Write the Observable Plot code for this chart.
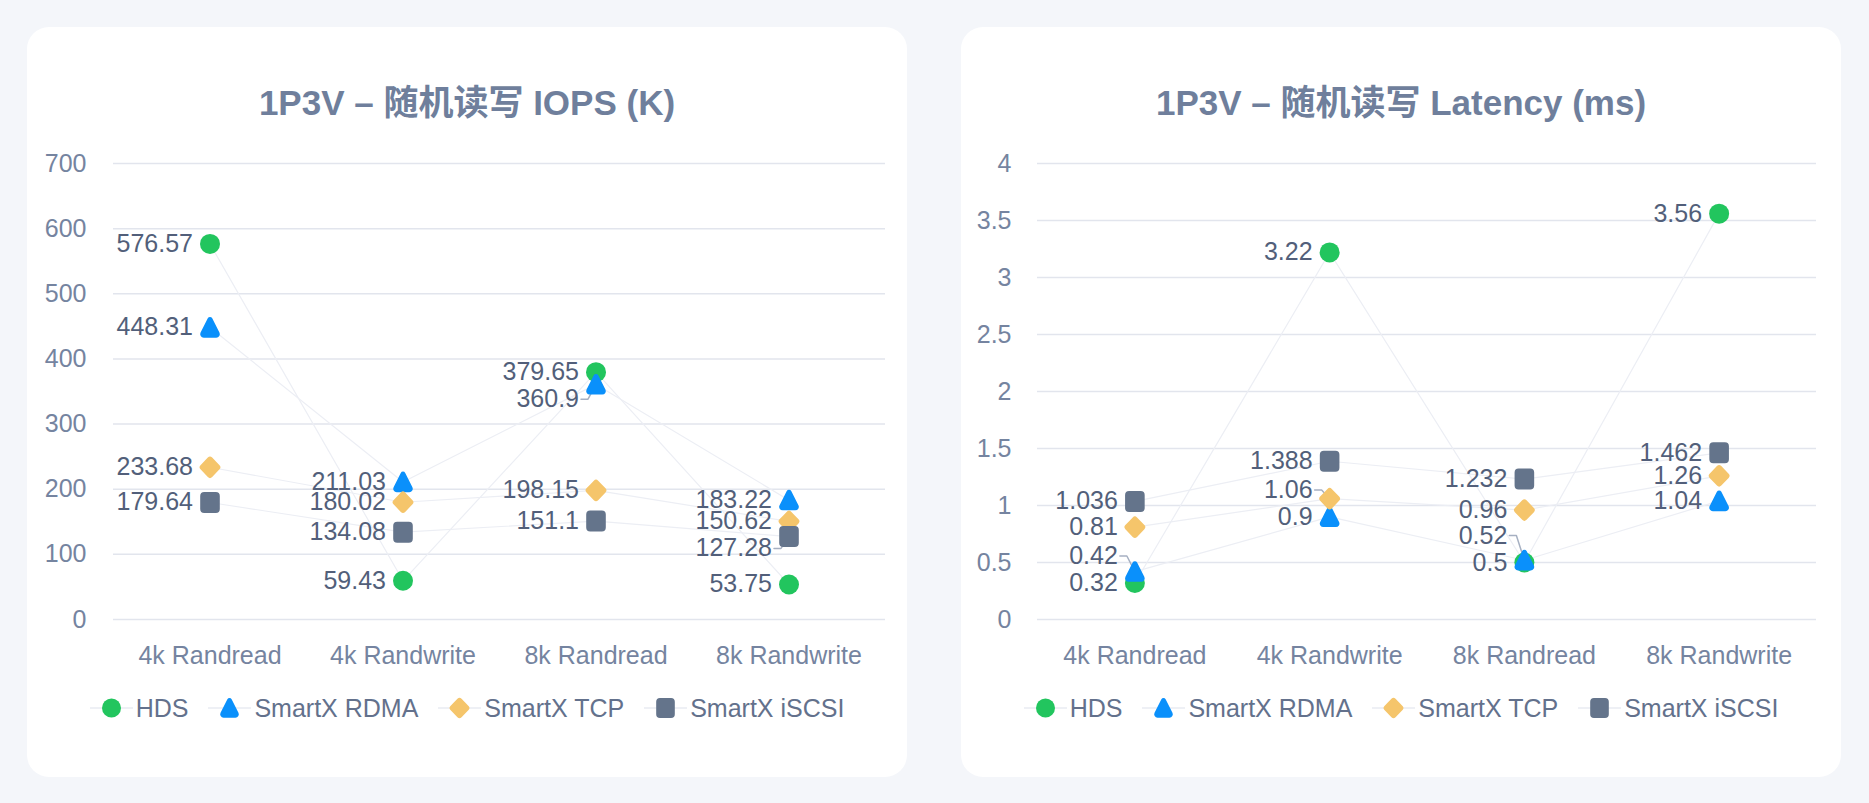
<!DOCTYPE html>
<html>
<head>
<meta charset="utf-8">
<script src="https://cdn.jsdelivr.net/npm/d3@7"></script>
<script src="https://cdn.jsdelivr.net/npm/@observablehq/plot@0.6"></script>
<style>
  html, body { margin: 0; padding: 0; }
  body { background: #f4f6fa; width: 1869px; height: 803px; overflow: hidden; position: relative;
         font-family: "Liberation Sans", Arial, "Noto Sans CJK SC", sans-serif; }
  .card { position: absolute; top: 27px; width: 880px; height: 750px; background: #fff; border-radius: 22px; }
  .title { position: absolute; left: 0; top: 56px; width: 100%; text-align: center; font-size: 35px; line-height: 40px;
           font-weight: bold; color: #6f7f9c; }
  .plot { position: absolute; left: 0; top: 110px; }
  .legend { position: absolute; left: 0; top: 666px; width: 100%; display: flex; justify-content: center; align-items: center;
            font-size: 25px; line-height: 30px; color: #63718c; }
  .item { display: flex; align-items: center; margin: 0 10px; }
  .item svg { margin-right: 3px; }
</style>
</head>
<body>
<div class="card" id="card1" style="left:27px">
  <div class="title" id="title1"></div>
  <div class="plot" id="plot1"></div>
  <div class="legend" id="legend1"></div>
</div>
<div class="card" id="card2" style="left:961px">
  <div class="title" id="title2"></div>
  <div class="plot" id="plot2"></div>
  <div class="legend" id="legend2"></div>
</div>
<script>
// ---------------- data ----------------
const categories = ["4k Randread", "4k Randwrite", "8k Randread", "8k Randwrite"];
const seriesNames = ["HDS", "SmartX RDMA", "SmartX TCP", "SmartX iSCSI"];
const seriesColors = ["#22c55e", "#0a90fb", "#f5c56b", "#64748b"];

const iopsTitle = "1P3V – 随机读写 IOPS (K)";
const iopsHDS   = [576.57, 59.43, 379.65, 53.75];
const iopsRDMA  = [448.31, 211.03, 360.9, 183.22];
const iopsTCP   = [233.68, 180.02, 198.15, 150.62];
const iopsISCSI = [179.64, 134.08, 151.1, 127.28];
const iopsTicks = [0, 100, 200, 300, 400, 500, 600, 700];

const latTitle = "1P3V – 随机读写 Latency (ms)";
const latHDS   = [0.32, 3.22, 0.5, 3.56];
const latRDMA  = [0.42, 0.9, 0.52, 1.04];
const latTCP   = [0.81, 1.06, 0.96, 1.26];
const latISCSI = [1.036, 1.388, 1.232, 1.462];
const latTicks = [0, 0.5, 1, 1.5, 2, 2.5, 3, 3.5, 4];

// ---------------- symbols ----------------
const symCircle = { draw(ctx, size) { const r = Math.sqrt(size / Math.PI); ctx.moveTo(r, 0); ctx.arc(0, 0, r, 0, 2 * Math.PI); } };
const symTriangle = { draw(ctx, size) {
  const k = Math.sqrt(size / Math.PI) / 10;
  const tx = 0, ty = -13.5 * k, rx = 12 * k, ry = 10.2 * k, lx = -12 * k, ly = 10.2 * k;
  ctx.moveTo(0, ry);
  ctx.arcTo(rx, ry, tx, ty, 3.5 * k);
  ctx.arcTo(tx, ty, lx, ly, 2.5 * k);
  ctx.arcTo(lx, ly, 0, ly, 3.5 * k);
  ctx.closePath();
} };
const symDiamond = { draw(ctx, size) {
  const k = Math.sqrt(size / Math.PI) / 10;
  const h = 12 * k, w = 11.5 * k, c = 3 * k;
  ctx.moveTo(-w / 2, -h / 2);
  ctx.arcTo(0, -h, w, 0, c);
  ctx.arcTo(w, 0, 0, h, c);
  ctx.arcTo(0, h, -w, 0, c);
  ctx.arcTo(-w, 0, 0, -h, c);
  ctx.closePath();
} };
const symRect = { draw(ctx, size) {
  const k = Math.sqrt(size / Math.PI) / 10;
  const w = 9.8 * k, h = 10.5 * k, c = 4 * k;
  ctx.moveTo(0, -h);
  ctx.arcTo(w, -h, w, h, c);
  ctx.arcTo(w, h, -w, h, c);
  ctx.arcTo(-w, h, -w, -h, c);
  ctx.arcTo(-w, -h, w, -h, c);
  ctx.closePath();
} };
const seriesSymbols = [symCircle, symTriangle, symDiamond, symRect];

// ---------------- chart builder ----------------
const W = 880, H = 542, HIT = 20, SHIFT = 27, R = 10;
const labelColor = "#525f7a";

function build(el, cfg) {
  const series = cfg.values.map((vals, s) => vals.map((v, i) => ({ i, v, s: seriesNames[s] })));
  const base = {
    width: W, height: H, marginTop: 26, marginBottom: 60, marginLeft: cfg.marginLeft, marginRight: cfg.marginRight,
    style: { fontSize: "25px", fontFamily: "'Liberation Sans', Arial, sans-serif", color: "#7584a0", background: "transparent", overflow: "visible" },
    x: { domain: [-0.5, 3.5], ticks: [0, 1, 2, 3], tickFormat: i => categories[i], tickSize: 0, tickPadding: 27, label: null },
    y: { domain: [0, cfg.ticks[cfg.ticks.length - 1]], ticks: cfg.ticks, tickFormat: d => String(d), tickSize: 0, tickPadding: cfg.tickPadding, label: null }
  };
  // first pass to obtain scales
  const probe = Plot.plot({ ...base, marks: [Plot.ruleY(cfg.ticks)] });
  const ys = probe.scale("y"), xs = probe.scale("x");

  // label dodging per category
  const labels = [], leaders = [];
  for (let c = 0; c < categories.length; c++) {
    const placed = [];
    for (let s = 0; s < series.length; s++) {
      const d = series[s][c];
      const p0 = ys.apply(d.v);
      let p = p0;
      for (let it = 0; it < 10; it++) {
        const hit = placed.find(q => Math.abs(q - p) < HIT - 0.01);
        if (hit === undefined) break;
        p = p0 <= hit ? hit - SHIFT : hit + SHIFT;
      }
      placed.push(p);
      const ly = ys.invert(p);
      labels.push({ i: c, y: ly, text: String(d.v) });
      if (Math.abs(p - p0) > 3) {
        const px = xs.apply(c);
        const key = s + "-" + c;
        leaders.push({ key, x: xs.invert(px - 15), y: ly });
        leaders.push({ key, x: xs.invert(px - 8), y: ly });
        leaders.push({ key, x: c, y: d.v });
      }
    }
  }

  const marks = [
    Plot.ruleY(cfg.ticks, { stroke: "#e2e5ed", strokeWidth: 1.5 }),
    Plot.line(series.flat(), { x: "i", y: "v", z: "s", stroke: "#eceef4", strokeWidth: 1.2 }),
    Plot.line(leaders, { x: "x", y: "y", z: "key", stroke: "#a6b0c2", strokeWidth: 1.5, curve: "linear" }),
    ...series.map((rows, s) => Plot.dot(rows, { x: "i", y: "v", r: R, symbol: seriesSymbols[s], fill: seriesColors[s], stroke: "none" })),
    Plot.text(labels, { x: "i", y: "y", text: "text", dx: -17, textAnchor: "end", fill: labelColor, fontSize: 25 })
  ];
  el.appendChild(Plot.plot({ ...base, marks }));
}

function buildLegend(el) {
  seriesNames.forEach((name, s) => {
    const item = document.createElement("div");
    item.className = "item";
    const p = d3.path();
    seriesSymbols[s].draw(p, Math.PI * 9.5 * 9.5);
    item.innerHTML = `<svg width="43" height="26" viewBox="-21.5 -13 43 26"><line x1="-21.5" x2="21.5" y1="0" y2="0" stroke="#eef0f5" stroke-width="2"/><path d="${p.toString()}" fill="${seriesColors[s]}"/></svg><span>${name}</span>`;
    el.appendChild(item);
  });
}

document.getElementById("title1").textContent = iopsTitle;
document.getElementById("title2").textContent = latTitle;
build(document.getElementById("plot1"), { values: [iopsHDS, iopsRDMA, iopsTCP, iopsISCSI], ticks: iopsTicks, marginLeft: 86, marginRight: 22, tickPadding: 27 });
build(document.getElementById("plot2"), { values: [latHDS, latRDMA, latTCP, latISCSI], ticks: latTicks, marginLeft: 76, marginRight: 25, tickPadding: 26 });
buildLegend(document.getElementById("legend1"));
buildLegend(document.getElementById("legend2"));
</script>
</body>
</html>
